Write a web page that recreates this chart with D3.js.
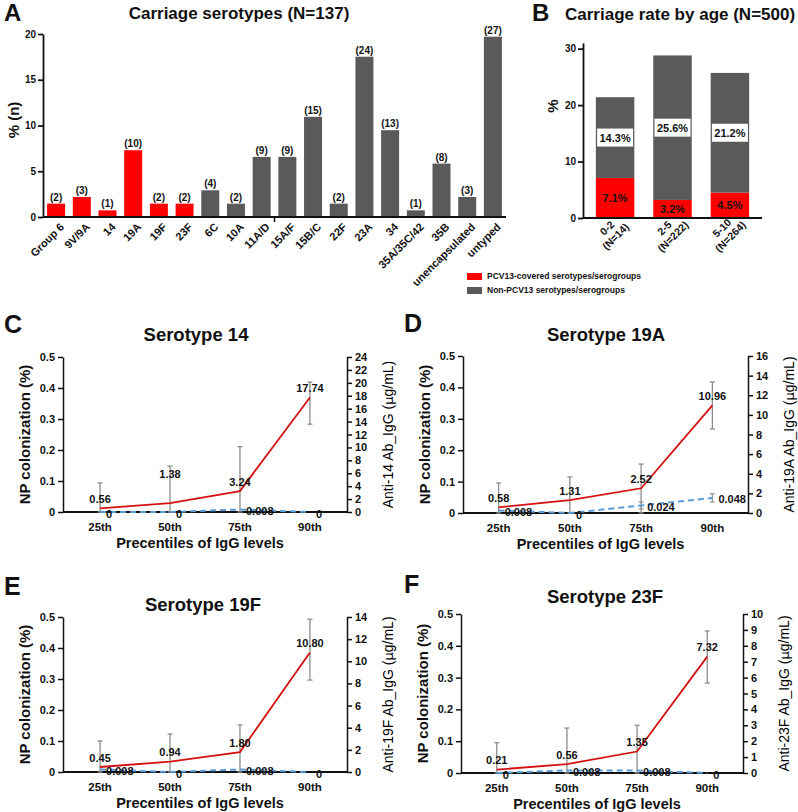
<!DOCTYPE html>
<html><head><meta charset="utf-8">
<script src="https://cdn.jsdelivr.net/npm/d3@7"></script>
<style>
body{margin:0;background:#fff}
svg{display:block}
text{font-family:"Liberation Sans",Arial,sans-serif;fill:#111}
</style>
</head><body>
<svg id="chart" width="798" height="812"></svg>
<script>
// ---------- DATA ----------
// Panel A
const serotypes = ["Group 6","9V/9A","14","19A","19F","23F","6C","10A","11A/D","15A/F","15B/C","22F","23A","34","35A/35C/42","35B","unencapsulated","untyped"];
const serotypeCounts = [2,3,1,10,2,2,4,2,9,9,15,2,24,13,1,8,3,27];
const serotypeCovered = [true,true,true,true,true,true,false,false,false,false,false,false,false,false,false,false,false,false];
const serotypeTotal = 137;
const ticksA = [0,5,10,15,20];

// Panel B
const ageGroups = ["0-2","2-5","5-10"];
const ageN = ["(N=14)","(N=222)","(N=264)"];
const pcv13Rate = [7.1,3.2,4.5];
const nonPcv13Rate = [14.3,25.6,21.2];
const ticksB = [0,10,20,30];
const legendLabels = ["PCV13-covered serotypes/serogroups","Non-PCV13 serotypes/serogroups"];

// Panels C-F
const percentiles = ["25th","50th","75th","90th"];
const npTicks = [0,0.1,0.2,0.3,0.4,0.5];

const igg14 = [0.56,1.38,3.24,17.74];
const igg14Low = [0,0,0,13.6];
const igg14High = [4.5,7.1,10.1,20.1];
const np14 = [0,0,0.008,0];

const igg19A = [0.58,1.31,2.52,10.96];
const igg19ALow = [0,0,0,8.56];
const igg19AHigh = [3.06,3.67,4.99,13.35];
const np19A = [0.008,0,0.024,0.048];
const np19ALow = [null,null,0.013,0.035];
const np19AHigh = [null,null,0.035,0.061];

const igg19F = [0.45,0.94,1.80,10.80];
const igg19FLow = [0,0,0,8.3];
const igg19FHigh = [2.8,3.43,4.25,13.8];
const np19F = [0.008,0,0.008,0];

const igg23F = [0.21,0.56,1.35,7.32];
const igg23FLow = [0,0,0,5.66];
const igg23FHigh = [1.9,2.83,3.0,8.93];
const np23F = [0,0.008,0.008,0];

// ---------- STYLE ----------
const RED = "#ff0000", GRAY = "#5a5a5a";
const svg = d3.select("#chart");

function boldText(g, x, y, txt, size, anchor){
  return g.append("text").attr("x",x).attr("y",y).attr("font-size",size)
    .attr("font-weight","bold").attr("text-anchor",anchor||"start").text(txt);
}

// ---------- PANEL A ----------
(function(){
  const g = svg.append("g");
  const x = d3.scaleBand().domain(serotypes).range([43,506]).paddingInner(0.3).paddingOuter(0.16);
  const y = d3.scaleLinear().domain([0,20]).range([217,34]);
  const pct = serotypeCounts.map(c => c/serotypeTotal*100);

  boldText(g,4,21,"A",24);
  boldText(g,239,19,"Carriage serotypes (N=137)",17,"middle");

  g.selectAll("rect.bar").data(serotypes).join("rect")
    .attr("x",d=>x(d)).attr("width",x.bandwidth())
    .attr("y",(d,i)=>y(pct[i])).attr("height",(d,i)=>y(0)-y(pct[i]))
    .attr("fill",(d,i)=>serotypeCovered[i]?RED:GRAY);

  g.selectAll("text.cnt").data(serotypes).join("text")
    .attr("x",d=>x(d)+x.bandwidth()/2).attr("y",(d,i)=>y(pct[i])-3)
    .attr("text-anchor","middle").attr("font-size",10).attr("font-weight","bold")
    .text((d,i)=>"("+serotypeCounts[i]+")");

  const ay = g.append("g").attr("transform","translate(43,0)")
    .call(d3.axisLeft(y).tickValues(ticksA).tickSize(5).tickSizeOuter(0).tickPadding(2));
  ay.selectAll("text").attr("font-size",10).attr("font-weight","bold").attr("font-family","Liberation Sans");
  ay.selectAll("path,line").attr("stroke","#111").attr("stroke-width",1.8);

  g.append("line").attr("x1",43).attr("x2",506).attr("y1",y(0)).attr("y2",y(0))
    .attr("stroke","#111").attr("stroke-width",2);
  g.append("line").attr("x1",274.5).attr("x2",274.5).attr("y1",y(0)).attr("y2",y(0)+5)
    .attr("stroke","#111").attr("stroke-width",1.5);

  g.selectAll("text.xl").data(serotypes).join("text")
    .attr("transform",d=>`translate(${x(d)+x.bandwidth()/2+6},${y(0)+8}) rotate(-45)`)
    .attr("text-anchor","end").attr("dy","0.35em")
    .attr("font-size",11).attr("font-weight","bold").text(d=>d);

  g.append("text").attr("transform","translate(19,120) rotate(-90)")
    .attr("text-anchor","middle").attr("font-size",15).attr("font-weight","bold").text("% (n)");
})();

// ---------- PANEL B ----------
(function(){
  const g = svg.append("g");
  const x = d3.scaleBand().domain(ageGroups).range([583,762]).paddingInner(0.33).paddingOuter(0.224);
  const y = d3.scaleLinear().domain([0,31]).range([218,43]);

  boldText(g,532,21,"B",24);
  boldText(g,565,20,"Carriage rate by age (N=500)",17);

  g.selectAll("rect.red").data(ageGroups).join("rect")
    .attr("x",d=>x(d)).attr("width",x.bandwidth())
    .attr("y",(d,i)=>y(pcv13Rate[i])).attr("height",(d,i)=>y(0)-y(pcv13Rate[i]))
    .attr("fill",RED);
  g.selectAll("rect.gray").data(ageGroups).join("rect")
    .attr("x",d=>x(d)).attr("width",x.bandwidth())
    .attr("y",(d,i)=>y(pcv13Rate[i]+nonPcv13Rate[i]))
    .attr("height",(d,i)=>y(pcv13Rate[i])-y(pcv13Rate[i]+nonPcv13Rate[i]))
    .attr("fill",GRAY);

  ageGroups.forEach((d,i)=>{
    const cx = x(d)+x.bandwidth()/2;
    const cy = y(pcv13Rate[i]+nonPcv13Rate[i]/2);
    g.append("rect").attr("x",cx-18).attr("y",cy-9).attr("width",36).attr("height",18).attr("fill","#fff");
    g.append("text").attr("x",cx).attr("y",cy).attr("dy","0.36em").attr("text-anchor","middle")
      .attr("font-size",11).attr("font-weight","bold").text(nonPcv13Rate[i].toFixed(1)+"%");
    g.append("text").attr("x",cx).attr("y",y(pcv13Rate[i]/2)).attr("dy","0.36em").attr("text-anchor","middle")
      .attr("font-size",11).attr("font-weight","bold").attr("fill","#222").text(pcv13Rate[i].toFixed(1)+"%");
    const lab = g.append("text").attr("transform",`translate(${cx-8},${y(0)+10}) rotate(-45)`)
      .attr("text-anchor","middle").attr("font-size",10.5).attr("font-weight","bold");
    lab.append("tspan").attr("x",0).attr("dy","0.35em").text(d);
    lab.append("tspan").attr("x",0).attr("dy","1.15em").text(ageN[i]);
  });

  const ay = g.append("g").attr("transform","translate(583,0)")
    .call(d3.axisLeft(y).tickValues(ticksB).tickSize(5).tickSizeOuter(0).tickPadding(2));
  ay.selectAll("text").attr("font-size",10).attr("font-weight","bold").attr("font-family","Liberation Sans");
  ay.selectAll("path,line").attr("stroke","#111").attr("stroke-width",1.8);
  g.append("line").attr("x1",583).attr("x2",762).attr("y1",y(0)).attr("y2",y(0))
    .attr("stroke","#111").attr("stroke-width",2);

  g.append("text").attr("transform","translate(558,106) rotate(-90)")
    .attr("text-anchor","middle").attr("font-size",15).attr("font-weight","bold").text("%");

  [RED,GRAY].forEach((c,i)=>{
    g.append("rect").attr("x",467).attr("y",273+i*14).attr("width",15).attr("height",7).attr("fill",c);
    g.append("text").attr("x",487).attr("y",276.5+i*14).attr("dy","0.35em")
      .attr("font-size",8.5).attr("font-weight","bold").text(legendLabels[i]);
  });
})();

// ---------- PANELS C-F ----------
function linePanel(cfg){
  const g = svg.append("g");
  const x = d3.scalePoint().domain(percentiles).range([cfg.left,cfg.right]).padding(cfg.pad);
  const yL = d3.scaleLinear().domain([0,0.5]).range([cfg.bottom,cfg.top]);
  const yR = d3.scaleLinear().domain([0,cfg.rmax]).range([cfg.bottom,cfg.top]);

  boldText(g,cfg.letterX,cfg.letterY,cfg.letter,25);
  boldText(g,cfg.titleX,cfg.titleY,cfg.title,18.5,"middle");

  const axL = g.append("g").attr("transform",`translate(${cfg.left},0)`)
    .call(d3.axisLeft(yL).tickValues(npTicks).tickFormat(d=>d===0?"0":d3.format(".1f")(d)).tickSize(5).tickSizeOuter(0).tickPadding(3));
  const rTicks = d3.range(0,cfg.rmax+cfg.rstep/2,cfg.rstep);
  const axR = g.append("g").attr("transform",`translate(${cfg.right},0)`)
    .call(d3.axisRight(yR).tickValues(rTicks).tickFormat(d3.format("d")).tickSize(5).tickSizeOuter(0).tickPadding(3));
  [axL,axR].forEach(a=>{
    a.selectAll("text").attr("font-size",11).attr("font-weight","bold").attr("font-family","Liberation Sans");
    a.selectAll("path,line").attr("stroke","#111").attr("stroke-width",1.5);
  });
  g.append("line").attr("x1",cfg.left).attr("x2",cfg.right).attr("y1",cfg.bottom).attr("y2",cfg.bottom)
    .attr("stroke","#111").attr("stroke-width",1.8);

  g.selectAll("text.xt").data(percentiles).join("text")
    .attr("x",d=>x(d)).attr("y",cfg.bottom+19).attr("text-anchor","middle")
    .attr("font-size",11.5).attr("font-weight","bold").text(d=>d);
  boldText(g,(cfg.left+cfg.right)/2-5,cfg.bottom+36,"Precentiles of IgG levels",14.5,"middle");

  g.append("text").attr("transform",`translate(${cfg.left-33},${(cfg.top+cfg.bottom)/2}) rotate(-90)`)
    .attr("text-anchor","middle").attr("font-size",15).attr("font-weight","bold").text("NP colonization (%)");
  const rl = g.append("text").attr("transform",`translate(${cfg.right+46},${(cfg.top+cfg.bottom)/2}) rotate(-90)`)
    .attr("text-anchor","middle").attr("font-size",14).style("fill","#000");
  rl.append("tspan").text(cfg.rlabel+" (");
  rl.append("tspan").attr("font-family","DejaVu Sans").attr("font-size",13).text("μ");
  rl.append("tspan").text("g/mL)");

  const eb = (xx,y1,y2,col)=>{
    g.append("line").attr("x1",xx).attr("x2",xx).attr("y1",y1).attr("y2",y2).attr("stroke",col).attr("stroke-width",1.3);
    [y1,y2].forEach(yy=>g.append("line").attr("x1",xx-2.5).attr("x2",xx+2.5).attr("y1",yy).attr("y2",yy).attr("stroke",col).attr("stroke-width",1.3));
  };
  percentiles.forEach((p,i)=> eb(x(p),yR(cfg.iggLow[i]),yR(cfg.iggHigh[i]),"#8c8c8c"));
  if(cfg.npLow) percentiles.forEach((p,i)=>{ if(cfg.npLow[i]!=null) eb(x(p),yL(cfg.npLow[i]),yL(cfg.npHigh[i]),"#9a9a9a"); });

  g.append("path").datum(cfg.np)
    .attr("d",d3.line().x((d,i)=>x(percentiles[i])).y(d=>yL(d)))
    .attr("fill","none").attr("stroke","#5b9bd5").attr("stroke-width",2).attr("stroke-dasharray","6,4");
  g.append("path").datum(cfg.igg)
    .attr("d",d3.line().x((d,i)=>x(percentiles[i])).y(d=>yR(d)))
    .attr("fill","none").attr("stroke","#d41010").attr("stroke-width",1.8);

  g.selectAll("text.il").data(cfg.igg).join("text")
    .attr("x",(d,i)=>x(percentiles[i])).attr("y",(d,i)=>yR(d)-cfg.lift[i])
    .attr("text-anchor","middle").attr("font-size",11).attr("font-weight","bold")
    .attr("font-family",cfg.serif?"Liberation Serif":"Liberation Sans")
    .text(d=>d.toFixed(2));
  g.selectAll("text.nl").data(cfg.np).join("text")
    .attr("x",(d,i)=>x(percentiles[i])+6).attr("y",d=>yL(d)+5.5)
    .attr("font-size",11).attr("font-weight","bold")
    .text(d=>d===0?"0":d3.format(".3f")(d));
}

linePanel({letter:"C",letterX:4,letterY:333,title:"Serotype 14",titleX:196,titleY:341,
  left:63,right:347,top:357,bottom:512,pad:0.53,rmax:24,rstep:2,rlabel:"Anti-14 Ab_IgG",
  igg:igg14,iggLow:igg14Low,iggHigh:igg14High,np:np14,lift:[5.5,25,5.5,5.5]});
linePanel({letter:"D",letterX:404,letterY:332,title:"Serotype 19A",titleX:606,titleY:341,
  left:463,right:748,top:356,bottom:513,pad:0.5,rmax:16,rstep:2,rlabel:"Anti-19A Ab_IgG",
  igg:igg19A,iggLow:igg19ALow,iggHigh:igg19AHigh,np:np19A,npLow:np19ALow,npHigh:np19AHigh,lift:[5.5,5.5,5.5,5.5]});
linePanel({letter:"E",letterX:4,letterY:595,title:"Serotype 19F",titleX:203,titleY:611,
  left:63,right:347,top:617,bottom:772,pad:0.53,rmax:14,rstep:2,rlabel:"Anti-19F Ab_IgG",
  igg:igg19F,iggLow:igg19FLow,iggHigh:igg19FHigh,np:np19F,lift:[5.5,5.5,5.5,5.5]});
linePanel({letter:"F",letterX:404,letterY:593,title:"Serotype 23F",titleX:605,titleY:603,
  left:461,right:743,top:614,bottom:773,pad:0.51,rmax:10,rstep:1,rlabel:"Anti-23F Ab_IgG",
  igg:igg23F,iggLow:igg23FLow,iggHigh:igg23FHigh,np:np23F,lift:[5.5,5.5,5.5,5.5],serif:true});
</script>
</body></html>
